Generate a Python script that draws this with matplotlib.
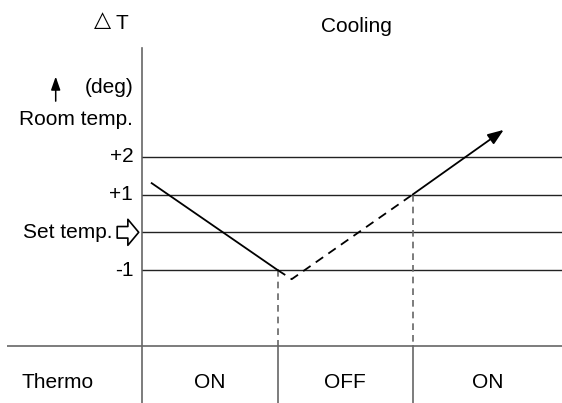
import matplotlib
matplotlib.use("Agg")
import matplotlib.pyplot as plt

plt.rcParams['font.family'] = ['Liberation Sans', 'DejaVu Sans']

# ---- data ----
title = "Cooling"
level_values = [2, 1, 0, -1]
level_labels = ["+2", "+1", "Set temp.", "-1"]
# time (arbitrary units) and temperature difference (deg)
t_on1 = [1.0, 13.6]
dT_on1 = [1.3, -1.0]
t_off = [13.6, 15.0, 27.1]
dT_off = [-1.0, -1.24, 1.0]
t_on2 = [27.1, 36.2]
dT_on2 = [1.0, 2.71]
switch_times = [13.6, 27.1]
switch_levels = [-1.0, 1.0]
thermo_states = ["ON", "OFF", "ON"]
row_label = "Thermo"

# ---- layout ----
XMIN, XMAX = -14.17, 42.03
YMIN, YMAX = -4.516, 6.146
TABLE_Y = -3.0
AXIS_TOP = 4.87
FS = 15

fig = plt.figure(figsize=(5.62, 4.03), dpi=100)
ax = fig.add_axes([0, 0, 1, 1])
ax.set_xlim(XMIN, XMAX)
ax.set_ylim(YMIN, YMAX)
ax.axis('off')

line_col = '#222222'
grey = '#666666'

# vertical axis
ax.plot([0, 0], [YMIN, AXIS_TOP], color=grey, lw=1.2)
# level lines
for v in level_values:
    ax.hlines(v, 0, XMAX, color=line_col, lw=1.0)
# table separator
ax.hlines(TABLE_Y, -13.47, XMAX, color=grey, lw=1.2)

# switch dividers
for ts, lv in zip(switch_times, switch_levels):
    ax.plot([ts, ts], [lv, TABLE_Y], color=grey, lw=1.2, ls=(0, (4, 3)))
    ax.plot([ts, ts], [TABLE_Y, YMIN], color=grey, lw=1.2)

# temperature trace
ax.plot(t_on1, dT_on1, color='black', lw=1.3)
ax.plot(t_off, dT_off, color='black', lw=1.3, ls=(0, (5, 3.5)))
ax.annotate("", xy=(t_on2[1], dT_on2[1]), xytext=(t_on2[0], dT_on2[0]),
            arrowprops=dict(arrowstyle="-|>,head_length=0.8,head_width=0.3",
                            color='black', lw=1.3, shrinkA=0, shrinkB=0,
                            mutation_scale=12))

# level labels
for v, lab in zip(level_values, level_labels):
    if lab == "Set temp.":
        ax.text(-2.9, v, lab, ha='right', va='center', fontsize=FS)
        ax.annotate("", xy=(-0.3, v), xytext=(-2.45, v),
                    arrowprops=dict(arrowstyle="simple,head_length=0.3,head_width=0.72,tail_width=0.32",
                                    fc='white', ec='black', lw=1.2,
                                    shrinkA=0, shrinkB=0, mutation_scale=26))
    else:
        ax.text(-0.85, v, lab, ha='right', va='center', fontsize=FS)

ax.text(-0.85, 3.84, "(deg)", ha='right', va='center', fontsize=FS)
ax.text(-0.85, 2.98, "Room temp.", ha='right', va='center', fontsize=FS)
ax.annotate("", xy=(-8.6, 4.12), xytext=(-8.6, 3.47),
            arrowprops=dict(arrowstyle="-|>,head_length=0.8,head_width=0.28",
                            color='black', lw=1.1, shrinkA=0, shrinkB=0,
                            mutation_scale=10))

# Delta T
ax.text(-3.97, 5.62, "\u25B3", ha='center', va='center', fontsize=16,
        family=['DejaVu Sans'])
ax.text(-1.95, 5.52, "T", ha='center', va='center', fontsize=FS)
ax.text(21.5, 5.45, title, ha='center', va='center', fontsize=FS)

# table row
row_y = -3.98
ax.text(-8.45, row_y, row_label, ha='center', va='center', fontsize=FS)
edges = [0] + switch_times + [XMAX]
for i, st in enumerate(thermo_states):
    ax.text((edges[i] + edges[i + 1]) / 2, row_y, st, ha='center', va='center', fontsize=FS)

fig.savefig("out.png", dpi=100)
